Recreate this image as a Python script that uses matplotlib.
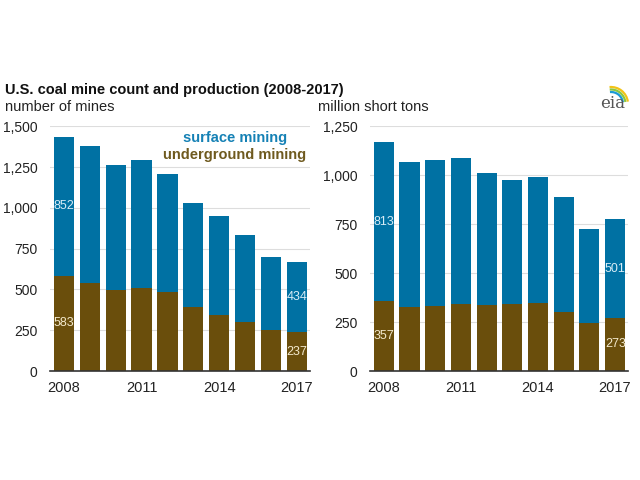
import matplotlib
matplotlib.use('Agg')
import matplotlib.pyplot as plt
from matplotlib.patches import Arc

plt.rcParams['font.family'] = ['Liberation Sans', 'DejaVu Sans']

years = [2008, 2009, 2010, 2011, 2012, 2013, 2014, 2015, 2016, 2017]
year_ticks = [2008, 2011, 2014, 2017]

# number of mines
mines_underground = [583, 541, 496, 506, 484, 390, 343, 302, 249, 237]
mines_surface = [852, 837, 765, 786, 722, 637, 610, 531, 447, 434]

# million short tons
prod_underground = [357, 325, 332, 342, 337, 341, 348, 303, 246, 273]
prod_surface = [813, 743, 746, 748, 672, 637, 645, 588, 477, 501]

BLUE = '#0071A3'
BROWN = '#6A4E0C'
GRID = '#DDDDDD'

fig = plt.figure(figsize=(6.4, 4.8), dpi=100)


def draw_panel(ax, under, surf, ymax, step):
    x = list(range(len(years)))
    ax.bar(x, under, width=0.78, color=BROWN, zorder=2)
    ax.bar(x, surf, bottom=under, width=0.78, color=BLUE, zorder=2)
    ax.set_ylim(0, ymax)
    ax.set_xlim(-0.54, len(years) - 0.5)
    yt = list(range(0, ymax + 1, step))
    ax.set_yticks(yt)
    ax.set_yticklabels([f'{v:,}' for v in yt], fontsize=10, color='#222222')
    ax.set_xticks([years.index(y) for y in year_ticks])
    ax.set_xticklabels([str(y) for y in year_ticks], fontsize=10.5, color='#222222')
    ax.tick_params(length=0)
    ax.tick_params(axis='x', pad=7)
    ax.tick_params(axis='y', pad=9)
    for s in ['left', 'right', 'top']:
        ax.spines[s].set_visible(False)
    ax.spines['bottom'].set_color('#333333')
    ax.spines['bottom'].set_linewidth(1.2)
    ax.grid(axis='y', color=GRID, linewidth=0.8, zorder=0)
    ax.set_axisbelow(True)
    # value labels on first and last bars
    for i in [0, len(years) - 1]:
        ax.text(i - 0.39, under[i] / 2, str(under[i]), fontsize=9, color='#F3E9CC',
                ha='left', va='center', zorder=3)
        ax.text(i - 0.39, under[i] + surf[i] / 2, str(surf[i]), fontsize=9,
                color='#D8ECF6', ha='left', va='center', zorder=3)


ax1 = fig.add_axes([0.078, 0.227, 0.406, 0.510])
draw_panel(ax1, mines_underground, mines_surface, 1500, 250)
ax2 = fig.add_axes([0.578, 0.227, 0.403, 0.510])
draw_panel(ax2, prod_underground, prod_surface, 1250, 250)

# legend as text
ax1.text(0.712, 0.951, 'surface mining', transform=ax1.transAxes, fontsize=10.5,
         fontweight='bold', color='#1581B5', ha='center', va='center')
ax1.text(0.712, 0.882, 'underground mining', transform=ax1.transAxes, fontsize=10.5,
         fontweight='bold', color='#6F5A1F', ha='center', va='center')

fig.text(0.008, 0.812, 'U.S. coal mine count and production (2008-2017)',
         fontsize=10.5, fontweight='bold', color='#111111', va='center')
fig.text(0.008, 0.778, 'number of mines', fontsize=10.5, color='#222222', va='center')
fig.text(0.497, 0.778, 'million short tons', fontsize=10.5, color='#222222', va='center')

# eia logo, drawn in a small pixel-based axes
lax = fig.add_axes([590 / 640, 1 - 118 / 480, 45 / 640, 38 / 480])
lax.set_xlim(590, 635)
lax.set_ylim(118, 80)
lax.axis('off')
lax.text(613, 104, 'eia', fontsize=12, family='DejaVu Serif', color='#555555',
         ha='center', va='center')
for r, c in [(17, '#F2C318'), (14.5, '#8CC63F'), (12, '#1A9AD6')]:
    lax.add_patch(Arc((611, 104), 2 * r, 2 * r, theta1=-95, theta2=-8,
                      color=c, linewidth=1.6))

fig.savefig('out.png', dpi=100)
